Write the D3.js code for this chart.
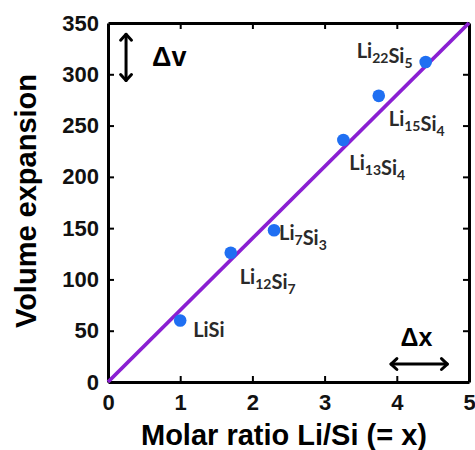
<!DOCTYPE html>
<html>
<head>
<meta charset="utf-8">
<script src="https://cdn.jsdelivr.net/npm/d3@7"></script>
<style>
  html, body { margin: 0; padding: 0; background: #fff; }
  svg { display: block; }
</style>
</head>
<body>
<svg id="chart" width="475" height="450"></svg>
<script>
// ---- data ----
const compounds = ["LiSi", "Li12Si7", "Li7Si3", "Li13Si4", "Li15Si4", "Li22Si5"];
const labelMain = [["Li","Si"],["Li","Si"],["Li","Si"],["Li","Si"],["Li","Si"],["Li","Si"]];
const labelSubs = [["",""],["12","7"],["7","3"],["13","4"],["15","4"],["22","5"]];
const molarRatio = [1.0, 1.70, 2.30, 3.26, 3.75, 4.40];
const volumeExpansion = [60, 126, 148, 236, 279, 312];
const fitLine = [[0, 0], [5, 350]];
const xTicks = [0, 1, 2, 3, 4, 5];
const yTicks = [0, 50, 100, 150, 200, 250, 300, 350];

const svg = d3.select("#chart");
const margin = { left: 108, right: 6, top: 23, bottom: 68 };
const W = 475, H = 450;
const x = d3.scaleLinear().domain([0, 5]).range([margin.left, W - margin.right]);
const y = d3.scaleLinear().domain([0, 350]).range([H - margin.bottom, margin.top]);

const tickFont = "bold 22px 'Liberation Sans', Arial, sans-serif";

// axes (ticks inward)
const gx = svg.append("g").attr("transform", `translate(0,${y(0)})`)
  .call(d3.axisBottom(x).tickValues(xTicks).tickFormat(d3.format("d")).tickSizeInner(-6).tickSizeOuter(0).tickPadding(12));
const gy = svg.append("g").attr("transform", `translate(${x(0)},0)`)
  .call(d3.axisLeft(y).tickValues(yTicks).tickFormat(d3.format("d")).tickSizeInner(-6).tickSizeOuter(0).tickPadding(9));
const gt = svg.append("g").attr("transform", `translate(0,${y(350)})`)
  .call(d3.axisTop(x).tickValues(xTicks).tickFormat("").tickSizeInner(-6).tickSizeOuter(0));
const gr = svg.append("g").attr("transform", `translate(${x(5)},0)`)
  .call(d3.axisRight(y).tickValues(yTicks).tickFormat("").tickSizeInner(-6).tickSizeOuter(0));

[gx, gy, gt, gr].forEach(g => {
  g.select(".domain").attr("stroke", "#000").attr("stroke-width", 3);
  g.selectAll(".tick line").attr("stroke", "#000").attr("stroke-width", 2);
  g.selectAll(".tick text").attr("fill", "#111").style("font", tickFont);
});
gt.selectAll(".tick").filter(d => d === 0 || d === 5).remove();
gr.selectAll(".tick").filter(d => d === 0 || d === 350).remove();
gx.selectAll(".tick line").filter(d => d === 0 || d === 5).remove();
gy.selectAll(".tick line").filter(d => d === 0 || d === 350).remove();

// fit line
svg.append("path")
  .datum(fitLine)
  .attr("d", d3.line().x(d => x(d[0])).y(d => y(d[1])))
  .attr("stroke", "#8a1fd2").attr("stroke-width", 3.8).attr("fill", "none");

// points
const pts = molarRatio.map((m, i) => ({ m, v: volumeExpansion[i], i }));
svg.append("g").selectAll("circle").data(pts).join("circle")
  .attr("cx", d => x(d.m)).attr("cy", d => y(d.v)).attr("r", 6.3)
  .attr("fill", "#1f6ff2");

// labels (offsets from point, pixels)
const labelOffsets = [[13, 17], [9, 31], [5, 10], [6, 30], [10, 30], [-69, -4]];
const lab = svg.append("g")
  .style("font-family", "Lato, 'Open Sans', sans-serif")
  .style("font-weight", 700)
  .attr("fill", "#2a2a2a");
pts.forEach(d => {
  const [dx, dy] = labelOffsets[d.i];
  const t = lab.append("text")
    .attr("x", x(d.m) + dx).attr("y", y(d.v) + dy)
    .style("font-size", "20px");
  labelMain[d.i].forEach((s, k) => {
    t.append("tspan").text(s);
    const sub = labelSubs[d.i][k];
    if (sub) {
      t.append("tspan").text(sub).attr("dy", 5).style("font-size", "14px");
      t.append("tspan").text("").attr("dy", -5);
    }
  });
});

// annotations: double arrows
function dblArrow(x1, y1, x2, y2) {
  const g = svg.append("g").attr("stroke", "#000").attr("stroke-width", 3).attr("fill", "none")
    .attr("stroke-linecap", "round").attr("stroke-linejoin", "round");
  g.append("line").attr("x1", x1).attr("y1", y1).attr("x2", x2).attr("y2", y2);
  const ang = Math.atan2(y2 - y1, x2 - x1);
  const a = 8, spread = Math.PI / 4.2;
  [[x1, y1, ang], [x2, y2, ang + Math.PI]].forEach(([px, py, an]) => {
    const p1 = [px + a * Math.cos(an + spread), py + a * Math.sin(an + spread)];
    const p2 = [px + a * Math.cos(an - spread), py + a * Math.sin(an - spread)];
    g.append("path").attr("d", `M${p1[0]},${p1[1]}L${px},${py}L${p2[0]},${p2[1]}`);
  });
}
dblArrow(x(0.25), y(339), x(0.25), y(294));
dblArrow(x(3.92), y(17.5), x(4.70), y(17.5));

const annFont = "'Liberation Sans', Arial, sans-serif";
svg.append("text").attr("x", x(0.61)).attr("y", y(308)).text("Δv")
  .style("font-family", annFont).style("font-weight", "bold").style("font-size", "27px").attr("fill", "#000");
svg.append("text").attr("x", x(4.05)).attr("y", y(35)).text("Δx")
  .style("font-family", annFont).style("font-weight", "bold").style("font-size", "25px").attr("fill", "#000");

// axis titles
svg.append("text").attr("x", 284).attr("y", 445).attr("text-anchor", "middle")
  .text("Molar ratio Li/Si (= x)")
  .style("font-family", annFont).style("font-weight", "bold").style("font-size", "29px").attr("fill", "#000");
svg.append("text").attr("transform", "translate(36,201) rotate(-90)").attr("text-anchor", "middle")
  .text("Volume expansion")
  .style("font-family", annFont).style("font-weight", "bold").style("font-size", "29px").attr("fill", "#000");
</script>
</body>
</html>
